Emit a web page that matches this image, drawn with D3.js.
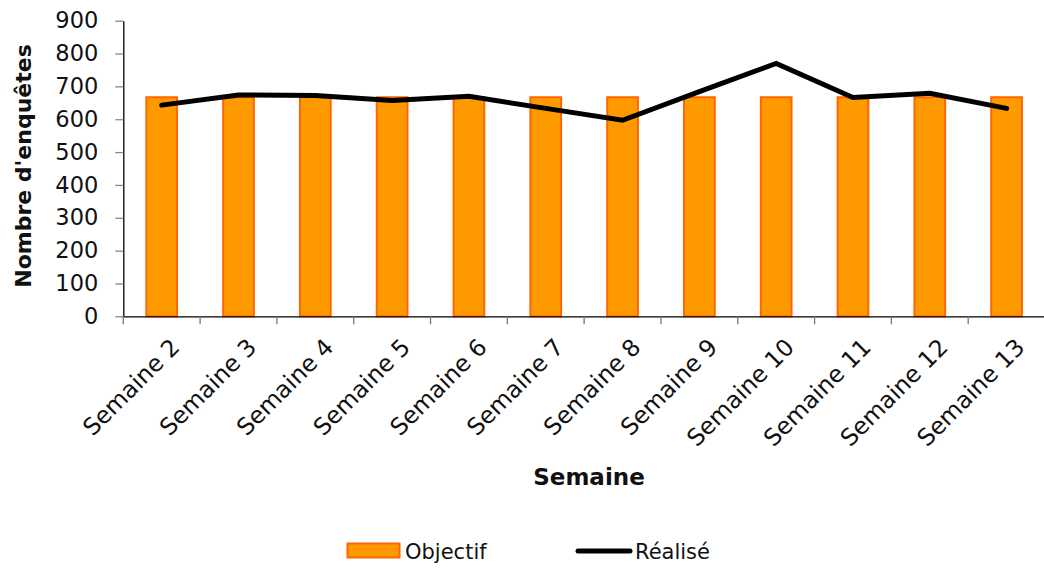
<!DOCTYPE html>
<html>
<head>
<meta charset="utf-8">
<script src="https://cdn.jsdelivr.net/npm/d3@7"></script>
<style>
  html, body { margin: 0; padding: 0; background: #fff; }
  svg { display: block; }
</style>
</head>
<body>
<svg id="chart" width="1044" height="568"></svg>
<script>
const categories = ["Semaine 2","Semaine 3","Semaine 4","Semaine 5","Semaine 6","Semaine 7","Semaine 8","Semaine 9","Semaine 10","Semaine 11","Semaine 12","Semaine 13"];
const objectif = [667,667,667,667,667,667,667,667,667,667,667,667];
const realise = [643,674,672,657,670,633,597,684,770,666,679,633];
const yTicks = [0,100,200,300,400,500,600,700,800,900];
const seriesNames = ["Objectif","Réalisé"];

(function () {
const svg = d3.select("#chart");
const mLeft = 123.3, mRight = 1045, mTop = 20.7, mBottom = 316.3;
const font = "'DejaVu Sans', Verdana, sans-serif";

const x = d3.scaleBand().domain(categories).range([mLeft, mRight]).padding(0);
const y = d3.scaleLinear().domain([0, 900]).range([mBottom, mTop]);
const bw = x.bandwidth();
const barW = bw * 0.40;

// bars
svg.append("g").selectAll("rect").data(categories).join("rect")
  .attr("x", d => x(d) + (bw - barW) / 2)
  .attr("y", (d, i) => y(objectif[i]))
  .attr("width", barW)
  .attr("height", (d, i) => y(0) - y(objectif[i]))
  .attr("fill", "#FF9900")
  .attr("stroke", "#FF6600")
  .attr("stroke-width", 2);

// y axis
const yAxis = d3.axisLeft(y).tickValues(yTicks).tickSize(8).tickPadding(17).tickSizeOuter(0);
const gy = svg.append("g").attr("transform", `translate(${mLeft},0)`).call(yAxis);
gy.select(".domain").attr("stroke", "#000").attr("stroke-width", 1.3);
gy.selectAll(".tick line").attr("stroke", "#888").attr("stroke-width", 1.3);
gy.selectAll(".tick text").attr("font-family", font).attr("font-size", 22.5).attr("fill", "#111");

// x axis
const xAxis = d3.axisBottom(x).tickSize(0).tickFormat("");
const gx = svg.append("g").attr("transform", `translate(0,${mBottom})`).call(xAxis);
gx.select(".domain").attr("stroke", "#000").attr("stroke-width", 1.3);
// boundary ticks
svg.append("g").selectAll("line").data(categories).join("line")
  .attr("x1", d => x(d)).attr("x2", d => x(d))
  .attr("y1", mBottom).attr("y2", mBottom + 8)
  .attr("stroke", "#777").attr("stroke-width", 1.3);

// x labels
svg.append("g").selectAll("text").data(categories).join("text")
  .attr("transform", d => `translate(${x(d) + bw / 2 + 7},${mBottom + 20}) rotate(-45)`)
  .attr("text-anchor", "end")
  .attr("dominant-baseline", "hanging")
  .attr("font-family", font).attr("font-size", 23.5).attr("fill", "#111")
  .text(d => d);

// line
const line = d3.line().x((d, i) => x(categories[i]) + bw / 2).y(d => y(d));
svg.append("path").datum(realise)
  .attr("d", line)
  .attr("fill", "none").attr("stroke", "#000").attr("stroke-width", 5)
  .attr("stroke-linecap", "round").attr("stroke-linejoin", "miter");

// titles
svg.append("text")
  .attr("transform", "translate(31,166) rotate(-90)")
  .attr("text-anchor", "middle")
  .attr("font-family", font).attr("font-weight", "bold").attr("font-size", 22).attr("fill", "#111")
  .text("Nombre d'enquêtes");
svg.append("text")
  .attr("x", 589).attr("y", 485)
  .attr("text-anchor", "middle")
  .attr("font-family", font).attr("font-weight", "bold").attr("font-size", 23).attr("fill", "#111")
  .text("Semaine");

// legend
const lg = svg.append("g");
lg.append("rect").attr("x", 347.5).attr("y", 543.5).attr("width", 52).attr("height", 14)
  .attr("fill", "#FF9900").attr("stroke", "#FF6600").attr("stroke-width", 2);
lg.append("text").attr("x", 405).attr("y", 559)
  .attr("font-family", font).attr("font-size", 21).attr("fill", "#111").text(seriesNames[0]);
lg.append("line").attr("x1", 578).attr("x2", 630).attr("y1", 551).attr("y2", 551)
  .attr("stroke", "#000").attr("stroke-width", 5).attr("stroke-linecap", "round");
lg.append("text").attr("x", 635).attr("y", 559)
  .attr("font-family", font).attr("font-size", 21).attr("fill", "#111").text(seriesNames[1]);
})();
</script>
</body>
</html>
